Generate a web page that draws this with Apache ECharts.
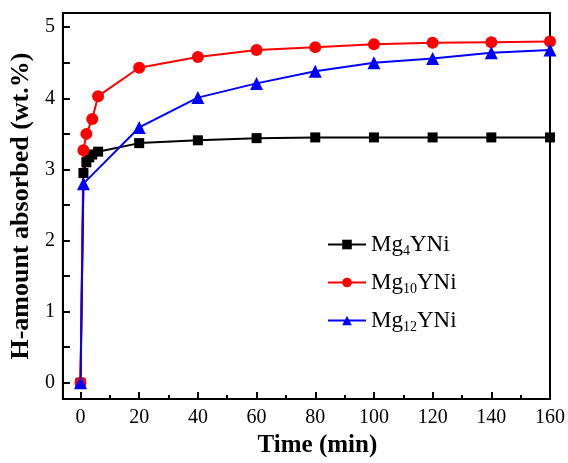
<!DOCTYPE html>
<html>
<head>
    <meta charset="utf-8" />
    <title>H-amount absorbed</title>
    <script src="https://cdn.jsdelivr.net/npm/echarts@6/dist/echarts.min.js"></script>
    <style>
        html, body { margin: 0; padding: 0; background: #fff; }
        #chart { width: 568px; height: 463px; }
    </style>
</head>
<body>
    <div id="chart"></div>
    <script type="text/javascript">
        // data
        var names = ["Mg4YNi", "Mg10YNi", "Mg12YNi"];
        var timeMg4 = [0, 1, 2, 3, 4, 6, 20, 40, 60, 80, 100, 120, 140, 160];
        var absMg4 = [0, 2.95, 3.10, 3.17, 3.21, 3.25, 3.37, 3.41, 3.44, 3.45, 3.45, 3.45, 3.45, 3.45];
        var timeMg10 = [0, 1, 2, 4, 6, 20, 40, 60, 80, 100, 120, 140, 160];
        var absMg10 = [0, 3.27, 3.50, 3.71, 4.03, 4.43, 4.58, 4.68, 4.72, 4.76, 4.78, 4.79, 4.80];
        var timeMg12 = [0, 1, 20, 40, 60, 80, 100, 120, 140, 160];
        var absMg12 = [0, 2.80, 3.59, 4.01, 4.21, 4.38, 4.50, 4.56, 4.64, 4.68];
        var xMajor = [0, 20, 40, 60, 80, 100, 120, 140, 160];
        var xMinor = [10, 30, 50, 70, 90, 110, 130, 150];
        var yLabels = [0, 1, 2, 3, 4, 5];
        var yTicks = [0, 0.5, 1, 1.5, 2, 2.5, 3, 3.5, 4, 4.5, 5];

        var serif = "Liberation Serif";

        function pairs(xs, ys) {
            var out = [];
            for (var i = 0; i < xs.length; i++) out.push([xs[i], ys[i]]);
            return out;
        }

        var myChart = echarts.init(document.getElementById("chart"));
        myChart.setOption({
            animation: false,
            grid: {
                left: 58, right: 17, top: 13, bottom: 58,
                show: true, borderColor: '#000', borderWidth: 2, backgroundColor: 'transparent'
            },
            legend: {
                orient: 'vertical',
                left: 327, top: 233, padding: 0,
                itemWidth: 38, itemHeight: 12, itemGap: 13,
                data: names,
                textStyle: {
                    fontFamily: serif, fontSize: 23, color: '#000',
                    rich: {
                        a: { fontFamily: serif, fontSize: 23, color: '#000' },
                        s: { fontFamily: serif, fontSize: 14, color: '#000', padding: [13, 0, 0, 0] }
                    }
                },
                formatter: function (n) {
                    var m = n.match(/^Mg(\d+)YNi$/);
                    return '{a|Mg}{s|' + m[1] + '}{a|YNi}';
                }
            },
            xAxis: [{
                type: 'value', min: -6, max: 160,
                name: 'Time (min)', nameLocation: 'middle', nameGap: 33,
                nameTextStyle: { fontFamily: serif, fontWeight: 'bold', fontSize: 25, color: '#000', padding: [0, 0, 0, 22] },
                axisLine: { onZero: false, lineStyle: { color: '#000', width: 2 } },
                axisTick: { inside: true, length: 7, lineStyle: { color: '#000', width: 2 }, customValues: xMajor },
                axisLabel: { customValues: xMajor, fontFamily: serif, fontSize: 20, color: '#000', margin: 9 },
                splitLine: { show: false }
            }, {
                type: 'value', min: -6, max: 160, position: 'bottom',
                axisLine: { show: false, onZero: false },
                axisTick: { inside: true, length: 4, lineStyle: { color: '#000', width: 2 }, customValues: xMinor },
                axisLabel: { show: false, customValues: xMinor },
                splitLine: { show: false }
            }],
            yAxis: {
                type: 'value', min: -0.23, max: 5.2,
                name: 'H-amount absorbed (wt.%)', nameLocation: 'middle', nameGap: 27,
                nameTextStyle: { fontFamily: serif, fontWeight: 'bold', fontSize: 26, color: '#000' },
                axisLine: { onZero: false, lineStyle: { color: '#000', width: 2 } },
                axisTick: { inside: true, length: 7, lineStyle: { color: '#000', width: 2 }, customValues: yTicks },
                axisLabel: { customValues: yLabels, fontFamily: serif, fontSize: 20, color: '#000', margin: 8 },
                splitLine: { show: false }
            },
            series: [{
                name: names[0], type: 'line', data: pairs(timeMg4, absMg4),
                symbol: 'rect', symbolSize: 10,
                lineStyle: { color: '#000', width: 2 }, itemStyle: { color: '#000' }
            }, {
                name: names[1], type: 'line', data: pairs(timeMg10, absMg10),
                symbol: 'circle', symbolSize: 12,
                lineStyle: { color: '#ff0000', width: 2 }, itemStyle: { color: '#ff0000' }
            }, {
                name: names[2], type: 'line', data: pairs(timeMg12, absMg12),
                symbol: 'triangle', symbolSize: 13,
                lineStyle: { color: '#0000ff', width: 2 }, itemStyle: { color: '#0000ff' }
            }]
        });
    </script>
</body>
</html>
